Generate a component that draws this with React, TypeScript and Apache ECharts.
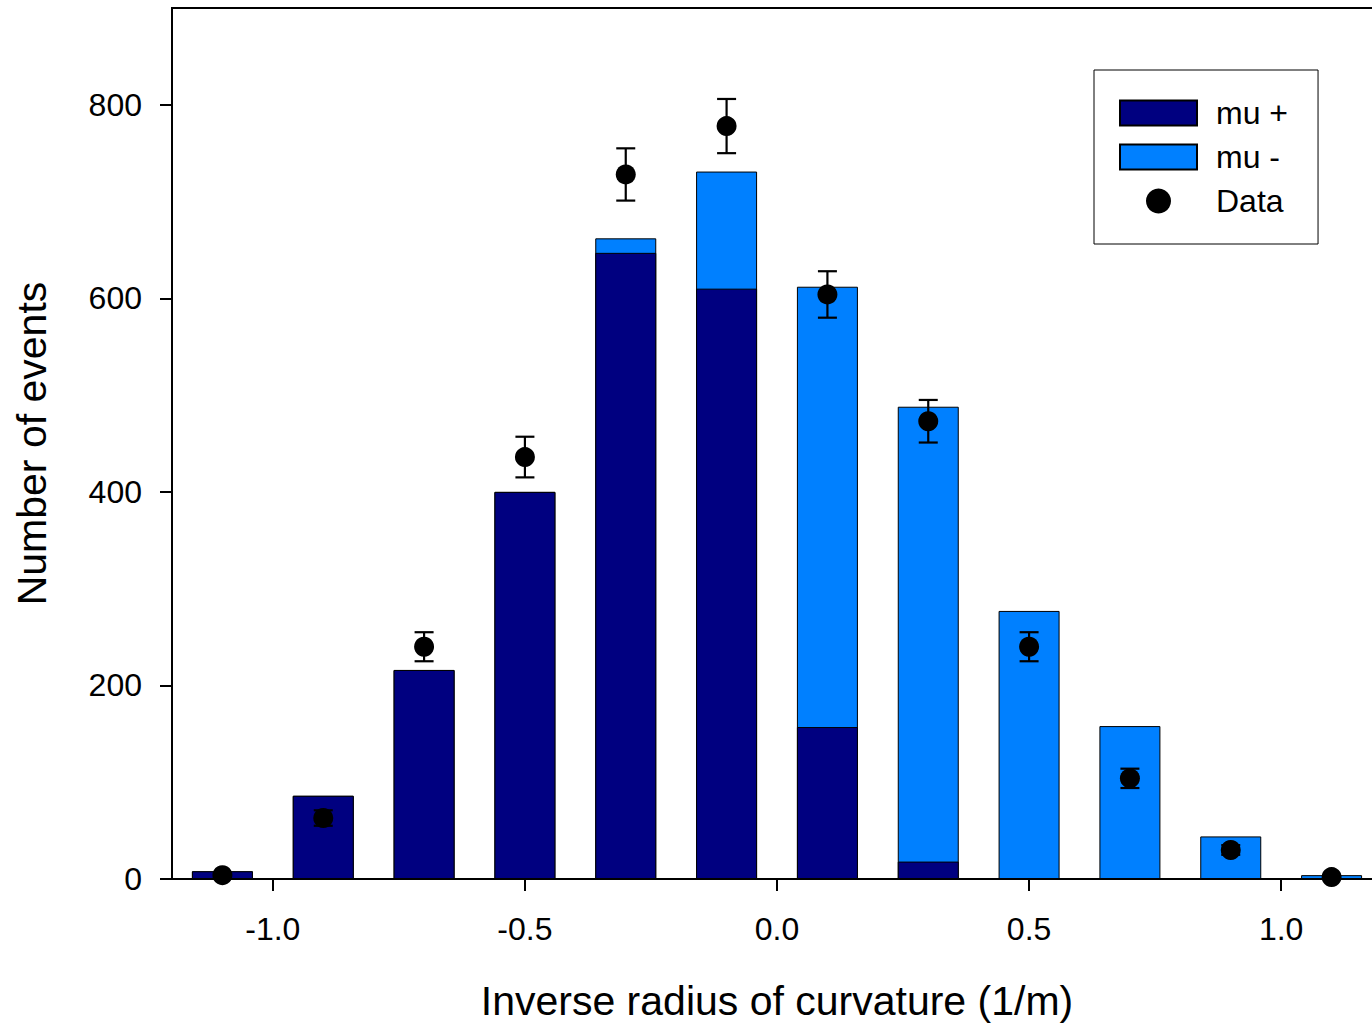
import React, { useEffect, useRef } from "react";
import * as echarts from "echarts";

const binCenters = [-1.1, -0.9, -0.7, -0.5, -0.3, -0.1, 0.1, 0.3, 0.5, 0.7, 0.9, 1.1];
const muPlus = [8, 86, 216, 400, 647, 610, 157, 18, 0, 0, 0, 0];
const muMinus = [0, 0, 0, 0, 15, 121, 455, 470, 277, 158, 44, 4];
const dataValues = [4, 63, 240, 436, 728, 778, 604, 473, 240, 104, 30, 2];
const dataErrors = [2, 8, 15, 21, 27, 28, 24, 22, 15, 10, 5, 1];
const xTicks = [-1.0, -0.5, 0.0, 0.5, 1.0];
const yTicks = [0, 200, 400, 600, 800];

const FONT = "Liberation Sans";

export default function App() {
  const ref = useRef<HTMLDivElement>(null);
  useEffect(() => {
    if (!ref.current) return;
    const chart = echarts.init(ref.current, null, { renderer: "svg" });
    const errData = binCenters.map((x, i) => [x, dataValues[i], dataErrors[i]]);
    // mu- sits on top of mu+: draw the total (mu+ + mu-) behind, mu+ in front
    const totals = binCenters.map((x, i) => [x, muPlus[i] + muMinus[i]]);
    chart.setOption({
      animation: false,
      backgroundColor: "#fff",
      textStyle: { fontFamily: FONT },
      grid: {
        left: 172,
        top: 8,
        right: 0,
        bottom: 145,
        outerBoundsMode: "none",
        containLabel: false,
        show: true,
        borderColor: "#000",
        borderWidth: 2,
        backgroundColor: "transparent",
      },
      legend: {
        orient: "vertical",
        left: 1094,
        top: 70,
        padding: [27, 30, 27, 25],
        itemWidth: 77,
        itemHeight: 25,
        itemGap: 12,
        borderColor: "#000",
        borderWidth: 1,
        data: [
          { name: "mu +", icon: "rect" },
          { name: "mu -", icon: "rect" },
          { name: "Data", icon: "circle" },
        ],
        textStyle: {
          fontFamily: FONT,
          fontSize: 32,
          color: "#000",
          padding: [0, 0, 0, 14],
        },
      },
      xAxis: {
        type: "value",
        min: -1.2,
        max: 1.2,
        name: "Inverse radius of curvature (1/m)",
        nameLocation: "middle",
        nameGap: 101,
        nameTextStyle: { fontFamily: FONT, fontSize: 41, color: "#000" },
        axisLine: { show: true, onZero: false, lineStyle: { color: "#000", width: 2 } },
        axisTick: {
          show: true,
          length: 12,
          customValues: xTicks,
          lineStyle: { color: "#000", width: 2 },
        },
        axisLabel: {
          customValues: xTicks,
          margin: 34,
          fontFamily: FONT,
          fontSize: 32,
          color: "#000",
          formatter: (v: number) => v.toFixed(1),
        },
        splitLine: { show: false },
      },
      yAxis: {
        type: "value",
        min: 0,
        max: 900,
        name: "Number of events",
        nameLocation: "middle",
        nameGap: 120,
        nameTextStyle: { fontFamily: FONT, fontSize: 41, color: "#000" },
        axisLine: { show: true, onZero: false, lineStyle: { color: "#000", width: 2 } },
        axisTick: {
          show: true,
          length: 12,
          customValues: yTicks,
          lineStyle: { color: "#000", width: 2 },
        },
        axisLabel: {
          customValues: yTicks,
          margin: 30,
          fontFamily: FONT,
          fontSize: 32,
          color: "#000",
        },
        splitLine: { show: false },
      },
      series: [
        {
          name: "mu -",
          type: "bar",
          barWidth: 61,
          barGap: "-100%",
          data: totals,
          itemStyle: { color: "#0080FF", borderColor: "#000", borderWidth: 1 },
          z: 2,
        },
        {
          name: "mu +",
          type: "bar",
          barWidth: 61,
          barGap: "-100%",
          data: binCenters.map((x, i) => [x, muPlus[i]]),
          itemStyle: { color: "#000080", borderColor: "#000", borderWidth: 1 },
          z: 2,
        },
        {
          name: "Data error",
          type: "custom",
          data: errData,
          z: 3,
          renderItem: (params: any, api: any) => {
            const x = api.value(0);
            const y = api.value(1);
            const e = api.value(2);
            const top = api.coord([x, y + e]);
            const bot = api.coord([x, y - e]);
            const hw = 9.5;
            const style = { stroke: "#000", lineWidth: 2.2, fill: "none" };
            return {
              type: "group",
              children: [
                { type: "line", shape: { x1: top[0], y1: top[1], x2: bot[0], y2: bot[1] }, style },
                { type: "line", shape: { x1: top[0] - hw, y1: top[1], x2: top[0] + hw, y2: top[1] }, style },
                { type: "line", shape: { x1: bot[0] - hw, y1: bot[1], x2: bot[0] + hw, y2: bot[1] }, style },
              ],
            };
          },
        },
        {
          name: "Data",
          type: "scatter",
          symbol: "circle",
          symbolSize: 20,
          data: binCenters.map((x, i) => [x, dataValues[i]]),
          itemStyle: { color: "#000", opacity: 1 },
          z: 4,
        },
      ],
    });
    return () => chart.dispose();
  }, []);
  return (
    <div
      style={{
        position: "fixed",
        left: 0,
        top: 0,
        width: 1372,
        height: 1024,
        overflow: "hidden",
        background: "#fff",
      }}
    >
      <div ref={ref} style={{ width: 1382, height: 1024 }} />
    </div>
  );
}
